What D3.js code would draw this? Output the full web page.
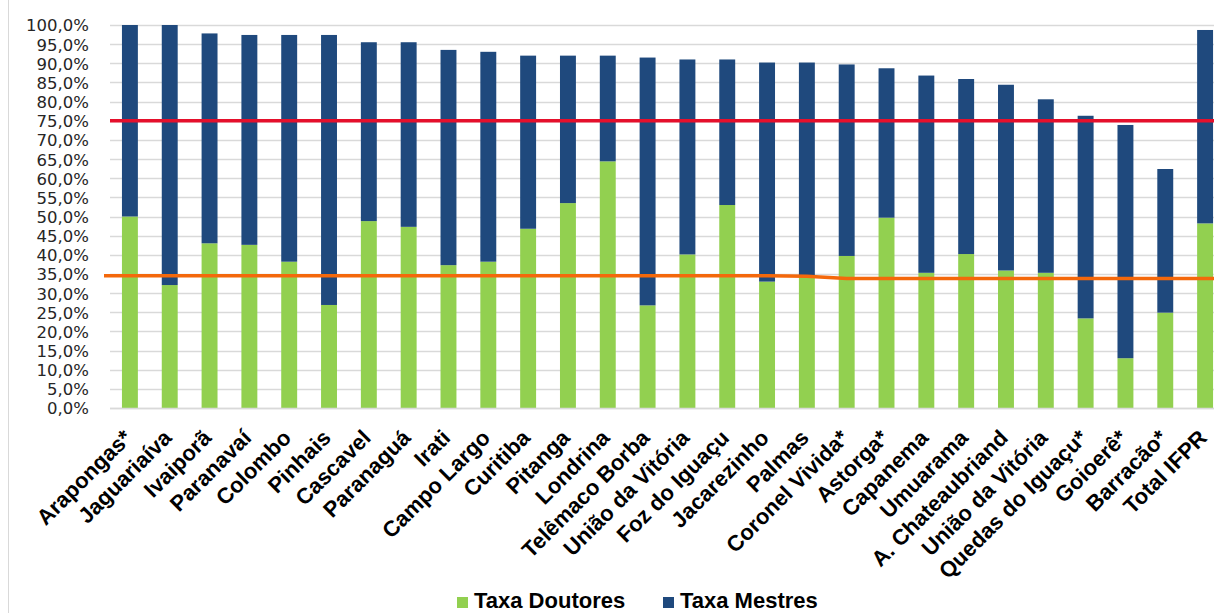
<!DOCTYPE html>
<html>
<head>
<meta charset="utf-8">
<script src="https://cdn.jsdelivr.net/npm/d3@7"></script>
<style>
  html, body { margin: 0; padding: 0; background: #fff; }
  svg { display: block; }
</style>
</head>
<body>
<script>
const categories = ["Arapongas*", "Jaguariaíva", "Ivaiporã", "Paranavaí", "Colombo", "Pinhais", "Cascavel", "Paranaguá", "Irati", "Campo Largo", "Curitiba", "Pitanga", "Londrina", "Telêmaco Borba", "União da Vitória", "Foz do Iguaçu", "Jacarezinho", "Palmas", "Coronel Vivida*", "Astorga*", "Capanema", "Umuarama", "A. Chateaubriand", "União da Vitória", "Quedas do Iguaçu*", "Goioerê*", "Barracão*", "Total IFPR"];
const taxaDoutores = [50.0, 32.1, 43.0, 42.6, 38.2, 26.9, 48.8, 47.3, 37.3, 38.2, 46.8, 53.5, 64.4, 26.8, 40.1, 53.0, 33.0, 34.5, 39.7, 49.7, 35.3, 40.2, 35.9, 35.3, 23.4, 13.0, 24.9, 48.2];
const taxaMestres = [50.0, 67.9, 54.8, 54.8, 59.2, 70.5, 46.7, 48.2, 56.2, 54.8, 45.2, 38.5, 27.6, 64.7, 50.9, 38.0, 57.2, 55.7, 50.0, 39.0, 51.5, 45.7, 48.5, 45.3, 52.9, 60.9, 37.5, 50.5];
const yTicks = d3.range(0, 101, 5);
const redLineValue = 75;
const orangeLineValues = [34.5, 34.5, 34.5, 34.5, 34.5, 34.5, 34.5, 34.5, 34.5, 34.5, 34.5, 34.5, 34.5, 34.5, 34.5, 34.5, 34.5, 34.4, 33.8, 33.8, 33.8, 33.8, 33.8, 33.8, 33.8, 33.8, 33.8, 33.8];
const seriesNames = ["Taxa Doutores", "Taxa Mestres"];
const seriesColors = ["#92d050", "#1f497d"];

const W = 1214, H = 613;
const svg = d3.select("body").append("svg").attr("width", W).attr("height", H);
svg.append("rect").attr("width", W).attr("height", H).attr("fill", "#fff");

// chart border (left edge visible)
svg.append("line").attr("x1", 8.5).attr("x2", 8.5).attr("y1", 0).attr("y2", H)
  .attr("stroke", "#d9d9d9").attr("stroke-width", 1);

const idx = categories.map((d, i) => i);
const x = d3.scaleBand().domain(idx).range([110, 1225]).paddingInner(0.6).paddingOuter(0.3);
const y = d3.scaleLinear().domain([0, 100]).range([408, 25]);

// gridlines
svg.append("g").selectAll("line").data(yTicks).join("line")
  .attr("x1", 110).attr("x2", W)
  .attr("y1", d => Math.round(y(d)) + 0.5).attr("y2", d => Math.round(y(d)) + 0.5)
  .attr("stroke", "#d9d9d9").attr("stroke-width", 1.3);

// y axis labels
const fmt = d => d3.format(".1f")(d).replace(".", ",") + "%";
const yAxis = d3.axisLeft(y).tickValues(yTicks).tickFormat(fmt).tickSize(0).tickPadding(0);
const yg = svg.append("g").attr("transform", "translate(89,0)").call(yAxis);
yg.select(".domain").remove();
yg.selectAll("text").attr("font-family", "'DejaVu Sans', sans-serif").attr("font-size", 16.5)
  .attr("fill", "#262626").attr("dy", "0.36em");

// stacked bars
const stackData = idx.map(i => ({ i, d: taxaDoutores[i], m: taxaMestres[i] }));
const stack = d3.stack().keys(["d", "m"]);
const series = stack(stackData);
svg.append("g").selectAll("g").data(series).join("g")
  .attr("fill", (s, k) => seriesColors[k])
  .selectAll("rect").data(s => s).join("rect")
  .attr("x", p => x(p.data.i))
  .attr("width", x.bandwidth())
  .attr("y", p => y(p[1]))
  .attr("height", p => y(p[0]) - y(p[1]));

// x axis
const xAxis = d3.axisBottom(x).tickFormat(i => categories[i]).tickSize(0).tickPadding(0);
const xg = svg.append("g").attr("transform", "translate(0,408)").call(xAxis);
xg.select(".domain").attr("stroke", "#d9d9d9").attr("stroke-width", 1.3).attr("d", "M110,0.5H" + W);
xg.selectAll(".tick text")
  .attr("font-family", "'Liberation Sans', Arial, sans-serif")
  .attr("font-weight", "bold").attr("font-size", 22).attr("fill", "#000")
  .attr("text-anchor", "end")
  .attr("y", 0).attr("dy", "0.72em")
  .attr("transform", "translate(-8,20) rotate(-45)");

// reference lines
svg.append("line").attr("x1", 110).attr("x2", W)
  .attr("y1", y(redLineValue)).attr("y2", y(redLineValue))
  .attr("stroke", "#e5102c").attr("stroke-width", 3.5);

const oPts = [[x.range()[0] - 6, orangeLineValues[0]]]
  .concat(idx.map(i => [x(i) + x.bandwidth() / 2, orangeLineValues[i]]))
  .concat([[W, orangeLineValues[orangeLineValues.length - 1]]]);
svg.append("path").datum(oPts)
  .attr("d", d3.line().x(p => p[0]).y(p => y(p[1])))
  .attr("fill", "none").attr("stroke", "#f4680b").attr("stroke-width", 3.5);

// legend
const legX = [457, 663];
const lg = svg.append("g");
seriesNames.forEach((name, k) => {
  lg.append("rect").attr("x", legX[k]).attr("y", 597).attr("width", 11).attr("height", 11).attr("fill", seriesColors[k]);
  lg.append("text").attr("x", legX[k] + 17).attr("y", 608)
    .attr("font-family", "'Liberation Sans', Arial, sans-serif").attr("font-weight", "bold")
    .attr("font-size", 22).attr("fill", "#000").text(name);
});
</script>
</body>
</html>
